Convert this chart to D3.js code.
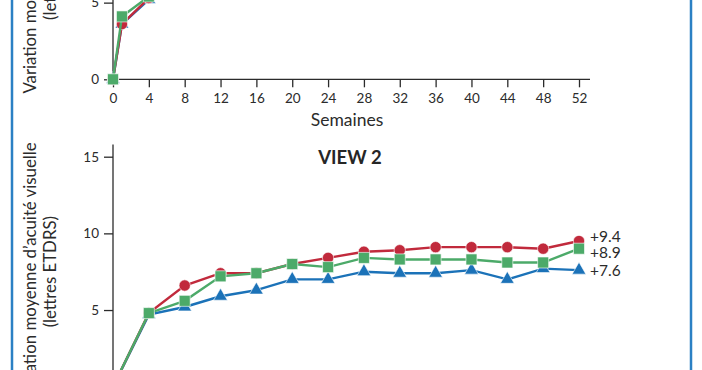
<!DOCTYPE html>
<html>
<head>
<meta charset="utf-8">
<script src="https://cdn.jsdelivr.net/npm/d3@7"></script>
<style>
  html, body { margin: 0; padding: 0; background: #fff; }
  svg { display: block; font-family: Lato, "Open Sans", sans-serif; }
</style>
</head>
<body>
<div id="chart"></div>
<script>
// weeks of follow-up
const weeksView1 = [0, 1, 4, 8, 12, 16, 20, 24, 28, 32, 36, 40, 44, 48, 52];
const weeksView2 = [0, 4, 8, 12, 16, 20, 24, 28, 32, 36, 40, 44, 48, 52];
const xTicks = [0, 4, 8, 12, 16, 20, 24, 28, 32, 36, 40, 44, 48, 52];
const yTicks = [0, 5, 10, 15];

// VIEW 1 (mostly above the visible crop, estimated)
const view1Red = [0, 3.6, 5.3, 6.3, 7.0, 7.3, 7.7, 7.9, 8.0, 8.1, 8.2, 8.0, 8.1, 8.1, 8.1];
const view1Green = [0, 4.1, 5.4, 6.4, 7.0, 7.2, 7.4, 7.6, 7.8, 7.8, 7.9, 7.9, 8.0, 7.9, 7.9];
const view1Blue = [0, 3.6, 5.2, 6.8, 7.9, 8.6, 9.2, 9.6, 10.0, 10.2, 10.4, 10.5, 10.6, 10.8, 10.9];
const view1Labels = ["+8.1", "+7.9", "+10.9"];

// VIEW 2
const view2Red = [0, 4.8, 6.6, 7.4, 7.4, 8.0, 8.4, 8.8, 8.9, 9.1, 9.1, 9.1, 9.0, 9.5];
const view2Green = [0, 4.8, 5.6, 7.2, 7.4, 8.0, 7.8, 8.4, 8.3, 8.3, 8.3, 8.1, 8.1, 9.0];
const view2Blue = [0, 4.7, 5.2, 5.9, 6.3, 7.0, 7.0, 7.5, 7.4, 7.4, 7.6, 7.0, 7.7, 7.6];
const view2Labels = ["+9.4", "+8.9", "+7.6"];

const width = 702, height = 370;
const ink = "#2b2b2b";
const colors = { red: "#c12a3c", green: "#4caa69", blue: "#1b72b8" };
const frameColor = "#2b80c4";

const svg = d3.select("#chart").append("svg")
  .attr("width", width)
  .attr("height", height);

// blue frame sides
svg.append("line").attr("x1", 12).attr("x2", 12).attr("y1", 0).attr("y2", height)
  .attr("stroke", frameColor).attr("stroke-width", 2.5);
svg.append("line").attr("x1", 691).attr("x2", 691).attr("y1", 0).attr("y2", height)
  .attr("stroke", frameColor).attr("stroke-width", 2.5);

const x = d3.scaleLinear().domain([0, 52]).range([113, 579]);

const panel = (zeroY, title, weeks, series, labels, withXAxis) => {
  const y = d3.scaleLinear().domain([0, 15]).range([zeroY, zeroY - 230]);
  const g = svg.append("g");

  // y axis
  g.append("line")
    .attr("x1", x(0)).attr("x2", x(0))
    .attr("y1", y(0)).attr("y2", y(15.8))
    .attr("stroke", ink).attr("stroke-width", 1.3);
  const ya = g.append("g")
    .attr("transform", `translate(${x(0)},0)`)
    .call(d3.axisLeft(y).tickValues(yTicks).tickSize(9).tickPadding(5));
  ya.select(".domain").remove();
  ya.selectAll(".tick line").attr("stroke", ink).attr("stroke-width", 1.3);
  ya.selectAll(".tick text").attr("fill", ink).attr("font-size", 13.5)
    .attr("font-family", "Lato, sans-serif");

  if (withXAxis) {
    g.append("line")
      .attr("x1", x(0)).attr("x2", 590)
      .attr("y1", y(0)).attr("y2", y(0))
      .attr("stroke", ink).attr("stroke-width", 1.3);
    const xa = g.append("g")
      .attr("transform", `translate(0,${y(0)})`)
      .call(d3.axisBottom(x).tickValues(xTicks).tickSize(8).tickPadding(6));
    xa.select(".domain").remove();
    xa.selectAll(".tick line").attr("stroke", ink).attr("stroke-width", 1.3);
    xa.selectAll(".tick text").attr("fill", ink).attr("font-size", 13.5)
      .attr("font-family", "Lato, sans-serif");
    g.append("text")
      .attr("x", 347).attr("y", y(0) + 47)
      .attr("text-anchor", "middle")
      .attr("font-size", 17.5).attr("fill", ink)
      .text("Semaines");
  }

  // y label (two lines)
  const cy = (y(0) + y(15)) / 2;
  const lab = g.append("text")
    .attr("transform", `translate(0,${cy}) rotate(-90)`)
    .attr("text-anchor", "middle")
    .attr("font-size", 16.8).attr("fill", ink);
  lab.append("tspan").attr("x", 0).attr("y", 36).text("Variation moyenne d\u2019acuit\u00e9 visuelle");
  lab.append("tspan").attr("x", 0).attr("y", 56).text("(lettres ETDRS)");

  // title
  g.append("text")
    .attr("x", 350).attr("y", y(15) + 7)
    .attr("text-anchor", "middle")
    .attr("font-size", 18.5).attr("font-weight", 700).attr("fill", "#262626")
    .text(title);

  const line = d3.line().x((d) => x(d[0])).y((d) => y(d[1]));

  // draw order: blue, red, green on top
  const order = [
    { key: "blue", vals: series.blue, sym: d3.symbolTriangle, size: 82 },
    { key: "red", vals: series.red, sym: d3.symbolCircle, size: 100 },
    { key: "green", vals: series.green, sym: d3.symbolSquare, size: 121 }
  ];
  order.forEach((s) => {
    const pts = weeks.map((w, i) => [w, s.vals[i]]);
    g.append("path")
      .attr("d", line(pts))
      .attr("fill", "none")
      .attr("stroke", colors[s.key])
      .attr("stroke-width", 2.4);
    g.selectAll(null)
      .data(pts)
      .enter()
      .append("path")
      .attr("d", d3.symbol().type(s.sym).size(s.size))
      .attr("transform", (d) => `translate(${x(d[0])},${y(d[1])})`)
      .attr("fill", colors[s.key])
      .attr("stroke", "#fff")
      .attr("stroke-width", 0.6);
  });

  // end labels, nudged apart so they do not collide
  const last = weeks.length - 1;
  const vals = [series.red[last], series.green[last], series.blue[last]];
  const sorted = vals.map((v, i) => ({ v, i })).sort((a, b) => b.v - a.v);
  const gap = 16;
  const pos = [];
  sorted.forEach((d, k) => {
    let py = y(d.v);
    if (k === 0) py -= 4.5;
    if (k > 0 && py - pos[sorted[k - 1].i] < gap) py = pos[sorted[k - 1].i] + gap;
    pos[d.i] = py;
  });
  labels.forEach((t, i) => {
    g.append("text")
      .attr("x", 590).attr("y", pos[i])
      .attr("dy", "0.35em")
      .attr("font-size", 15.5).attr("fill", ink)
      .text(t);
  });
};

panel(79.3, "VIEW 1", weeksView1,
  { red: view1Red, green: view1Green, blue: view1Blue }, view1Labels, true);
panel(386.7, "VIEW 2", weeksView2,
  { red: view2Red, green: view2Green, blue: view2Blue }, view2Labels, false);
</script>
</body>
</html>
